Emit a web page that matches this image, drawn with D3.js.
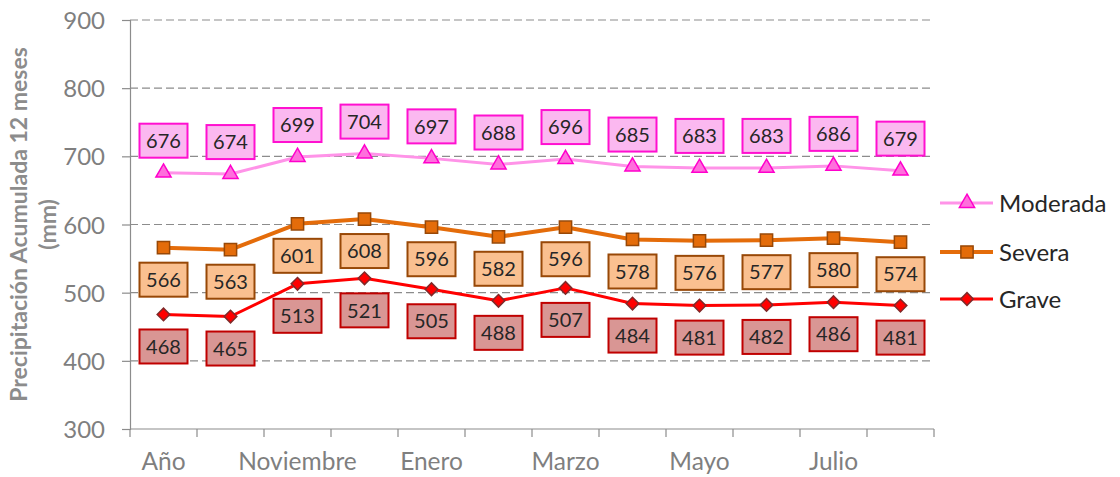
<!DOCTYPE html>
<html>
<head>
<meta charset="utf-8">
<script src="https://cdn.jsdelivr.net/npm/d3@7"></script>
<style>
  html, body { margin: 0; padding: 0; background: #fff; }
  svg { display: block; font-family: Lato, "Open Sans", sans-serif; }
</style>
</head>
<body>
<svg id="chart" width="1120" height="477"></svg>
<script>
// Categories (only every other label is shown on the axis)
const categories = ["Año", "Octubre", "Noviembre", "Diciembre", "Enero", "Febrero",
                    "Marzo", "Abril", "Mayo", "Junio", "Julio", "Agosto"];
const moderada = [676, 674, 699, 704, 697, 688, 696, 685, 683, 683, 686, 679];
const severa   = [566, 563, 601, 608, 596, 582, 596, 578, 576, 577, 580, 574];
const grave    = [468, 465, 513, 521, 505, 488, 507, 484, 481, 482, 486, 481];
const yTicks   = [300, 400, 500, 600, 700, 800, 900];
const seriesNames = ["Moderada", "Severa", "Grave"];

const series = [
  { name: seriesNames[0], values: moderada, line: "#ff93e8", lineW: 3,
    marker: d3.symbolTriangle, mSize: 100, rot: 0, mFill: "#ff6fdc", mStroke: "#ff00cc",
    boxFill: "#fbb8f0", boxStroke: "#ff10d0", labelPos: "above" },
  { name: seriesNames[1], values: severa, line: "#e46c0a", lineW: 4,
    marker: d3.symbolSquare, mSize: 150, rot: 0, mFill: "#e46c0a", mStroke: "#984807",
    boxFill: "#fac090", boxStroke: "#984807", labelPos: "below" },
  { name: seriesNames[2], values: grave, line: "#ff0000", lineW: 3,
    marker: d3.symbolSquare, mSize: 80, rot: 45, mFill: "#ff0000", mStroke: "#7f2a2a",
    boxFill: "#d99694", boxStroke: "#c00000", labelPos: "below" }
];

const svg = d3.select("#chart");
const plotLeft = 130, plotRight = 934, plotTop = 20, plotBottom = 429;

const x = d3.scaleBand().domain(categories).range([plotLeft, plotRight]).paddingInner(0).paddingOuter(0);
const y = d3.scaleLinear().domain([300, 900]).range([plotBottom, plotTop]);
const cx = c => x(c) + x.bandwidth() / 2;

// Horizontal dashed gridlines
svg.append("g")
  .selectAll("line")
  .data(yTicks.filter(v => v > 300))
  .join("line")
  .attr("x1", plotLeft).attr("x2", plotRight)
  .attr("y1", d => y(d)).attr("y2", d => y(d))
  .attr("stroke", "#8c8c8c").attr("stroke-width", 1.2)
  .attr("stroke-dasharray", "8,4");

// Y axis
const yAxis = svg.append("g")
  .attr("transform", `translate(${plotLeft},0)`)
  .call(d3.axisLeft(y).tickValues(yTicks).tickSize(8).tickPadding(17).tickFormat(d3.format("d")));
yAxis.select(".domain").attr("stroke", "#8c8c8c").attr("stroke-width", 1.2);
yAxis.selectAll(".tick line").attr("stroke", "#8c8c8c").attr("stroke-width", 1.2);
yAxis.selectAll(".tick text")
  .attr("fill", "#7f7f7f").attr("font-size", 24).attr("font-family", "Lato, sans-serif")
  .attr("dy", "0.36em");

// X axis: ticks between categories, labels on alternate categories
const xAxisG = svg.append("g").attr("transform", `translate(0,${plotBottom})`);
xAxisG.append("line")
  .attr("x1", plotLeft).attr("x2", plotRight).attr("y1", 0).attr("y2", 0)
  .attr("stroke", "#8c8c8c").attr("stroke-width", 1.2);
const boundaries = categories.map(c => x(c)).concat([plotRight]);
xAxisG.selectAll("line.tk")
  .data(boundaries)
  .join("line").attr("class", "tk")
  .attr("x1", d => d).attr("x2", d => d).attr("y1", 0).attr("y2", 8)
  .attr("stroke", "#8c8c8c").attr("stroke-width", 1.2);
xAxisG.selectAll("text")
  .data(categories.filter((c, i) => i % 2 === 0))
  .join("text")
  .attr("x", d => cx(d)).attr("y", 41)
  .attr("text-anchor", "middle")
  .attr("fill", "#7f7f7f").attr("font-size", 24.5)
  .text(d => d);

// Y axis title
const yTitle = svg.append("text")
  .attr("transform", `translate(27,${(plotTop + plotBottom) / 2}) rotate(-90)`)
  .attr("text-anchor", "middle")
  .attr("fill", "#8c8c8c").attr("font-weight", "bold").attr("font-size", 23);
yTitle.append("tspan").attr("x", 0).attr("dy", 0).text("Precipitación Acumulada 12 meses");
yTitle.append("tspan").attr("x", 0).attr("dy", 29).text("(mm)");

// Lines and markers
const lineGen = (vals) => d3.line()
  .x((d, i) => cx(categories[i]))
  .y(d => y(d))(vals);

series.forEach(s => {
  svg.append("path")
    .attr("d", lineGen(s.values))
    .attr("fill", "none")
    .attr("stroke", s.line)
    .attr("stroke-width", s.lineW)
    .attr("stroke-linejoin", "round");
});

series.forEach(s => {
  svg.append("g").selectAll("path")
    .data(s.values)
    .join("path")
    .attr("d", d3.symbol().type(s.marker).size(s.mSize))
    .attr("transform", (d, i) => `translate(${cx(categories[i])},${y(d)}) rotate(${s.rot})`)
    .attr("fill", s.mFill)
    .attr("stroke", s.mStroke)
    .attr("stroke-width", 1.5);
});

// Data labels in boxes
const boxW = 48, boxH = 34, offset = 32;
series.forEach(s => {
  const g = svg.append("g").selectAll("g")
    .data(s.values)
    .join("g")
    .attr("transform", (d, i) => {
      const yy = y(d) + (s.labelPos === "above" ? -offset : offset);
      return `translate(${cx(categories[i])},${yy})`;
    });
  g.append("rect")
    .attr("x", -boxW / 2).attr("y", -boxH / 2)
    .attr("width", boxW).attr("height", boxH)
    .attr("fill", s.boxFill).attr("stroke", s.boxStroke).attr("stroke-width", 2);
  g.append("text")
    .attr("text-anchor", "middle").attr("dy", "0.36em")
    .attr("fill", "#262626").attr("font-size", 20)
    .text(d => d);
});

// Legend
const legend = svg.append("g");
const legendY = [203, 252, 299];
series.forEach((s, i) => {
  const g = legend.append("g").attr("transform", `translate(0,${legendY[i]})`);
  g.append("line").attr("x1", 940).attr("x2", 993).attr("y1", 0).attr("y2", 0)
    .attr("stroke", s.line).attr("stroke-width", s.lineW);
  g.append("path")
    .attr("d", d3.symbol().type(s.marker).size(s.mSize))
    .attr("transform", `translate(967,0) rotate(${s.rot})`)
    .attr("fill", s.mFill).attr("stroke", s.mStroke).attr("stroke-width", 1.5);
  g.append("text")
    .attr("x", 999).attr("y", 0).attr("dy", "0.36em")
    .attr("fill", "#262626").attr("font-size", 24)
    .text(s.name);
});
</script>
</body>
</html>
